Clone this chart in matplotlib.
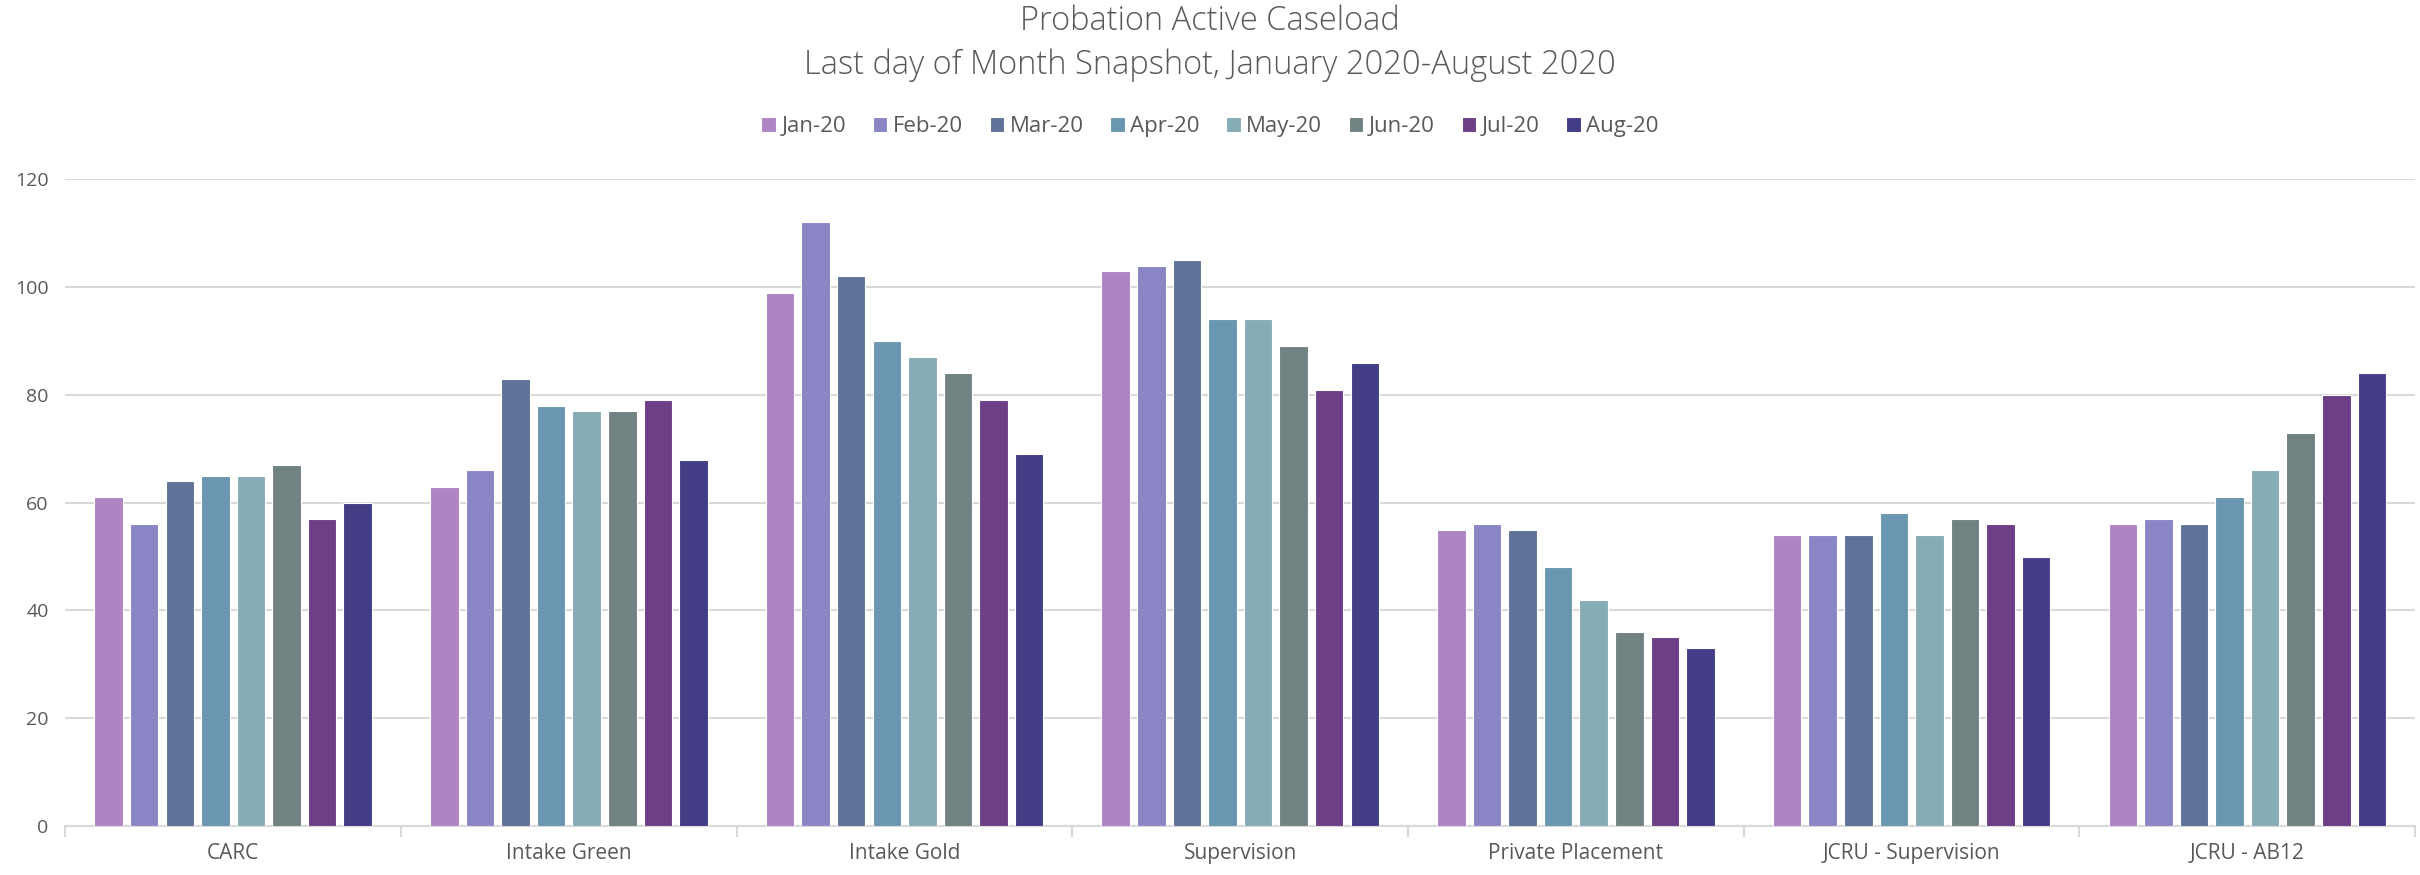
import numpy as np
import matplotlib.pyplot as plt

plt.rcParams['font.family'] = ['Open Sans', 'DejaVu Sans']

categories = ['CARC', 'Intake Green', 'Intake Gold', 'Supervision',
              'Private Placement', 'JCRU - Supervision', 'JCRU - AB12']
months = ['Jan-20', 'Feb-20', 'Mar-20', 'Apr-20', 'May-20', 'Jun-20', 'Jul-20', 'Aug-20']
jan = [61, 63, 99, 103, 55, 54, 56]
feb = [56, 66, 112, 104, 56, 54, 57]
mar = [64, 83, 102, 105, 55, 54, 56]
apr = [65, 78, 90, 94, 48, 58, 61]
may = [65, 77, 87, 94, 42, 54, 66]
jun = [67, 77, 84, 89, 36, 57, 73]
jul = [57, 79, 79, 81, 35, 56, 80]
aug = [60, 68, 69, 86, 33, 50, 84]
series = [jan, feb, mar, apr, may, jun, jul, aug]
colors = ['#AF84C5', '#8A86C6', '#5F7399', '#6A97B0',
          '#86ADB6', '#718282', '#6E3E86', '#423D84']

fig = plt.figure(figsize=(24.2, 8.75), dpi=100)
ax = fig.add_axes([0.027, 0.056, 0.971, 0.739])

x = np.arange(len(categories))
step = 0.106
width = 0.085
for i, (vals, c, m) in enumerate(zip(series, colors, months)):
    ax.bar(x + (i - 3.5) * step, vals, width, color=c, edgecolor='white',
           linewidth=0.8, label=m, zorder=3)

ax.set_xlim(-0.5, len(categories) - 0.5)
ax.set_ylim(0, 120)
ax.set_yticks(range(0, 121, 20))
ax.grid(axis='y', color='#D9D9D9', linewidth=1.5, zorder=0)
for s in ['top', 'right', 'left']:
    ax.spines[s].set_visible(False)
ax.spines['bottom'].set_color('#D9D9D9')
ax.spines['bottom'].set_linewidth(1.5)

ax.set_xticks(x)
ax.set_xticklabels(categories)
ax.set_xticks(np.arange(-0.5, len(categories), 1), minor=True)
ax.tick_params(axis='x', which='major', length=0, pad=12, labelsize=15, labelcolor='#595959')
ax.tick_params(axis='x', which='minor', length=8, color='#D9D9D9', width=1.5)
ax.tick_params(axis='y', length=0, labelsize=14, labelcolor='#595959', pad=12)

fig.text(0.5, 0.976, 'Probation Active Caseload', ha='center', va='center',
         fontsize=23.5, color='#595959', fontweight='light')
fig.text(0.5, 0.925, 'Last day of Month Snapshot, January 2020-August 2020', ha='center',
         va='center', fontsize=23.5, color='#595959', fontweight='light')

fig.legend(loc='center', bbox_to_anchor=(0.5, 0.855), ncol=8, frameon=False,
           fontsize=16, handlelength=0.65, handleheight=0.65, handletextpad=0.25,
           columnspacing=1.2, labelcolor='#595959')

fig.savefig('out.png', dpi=100)
